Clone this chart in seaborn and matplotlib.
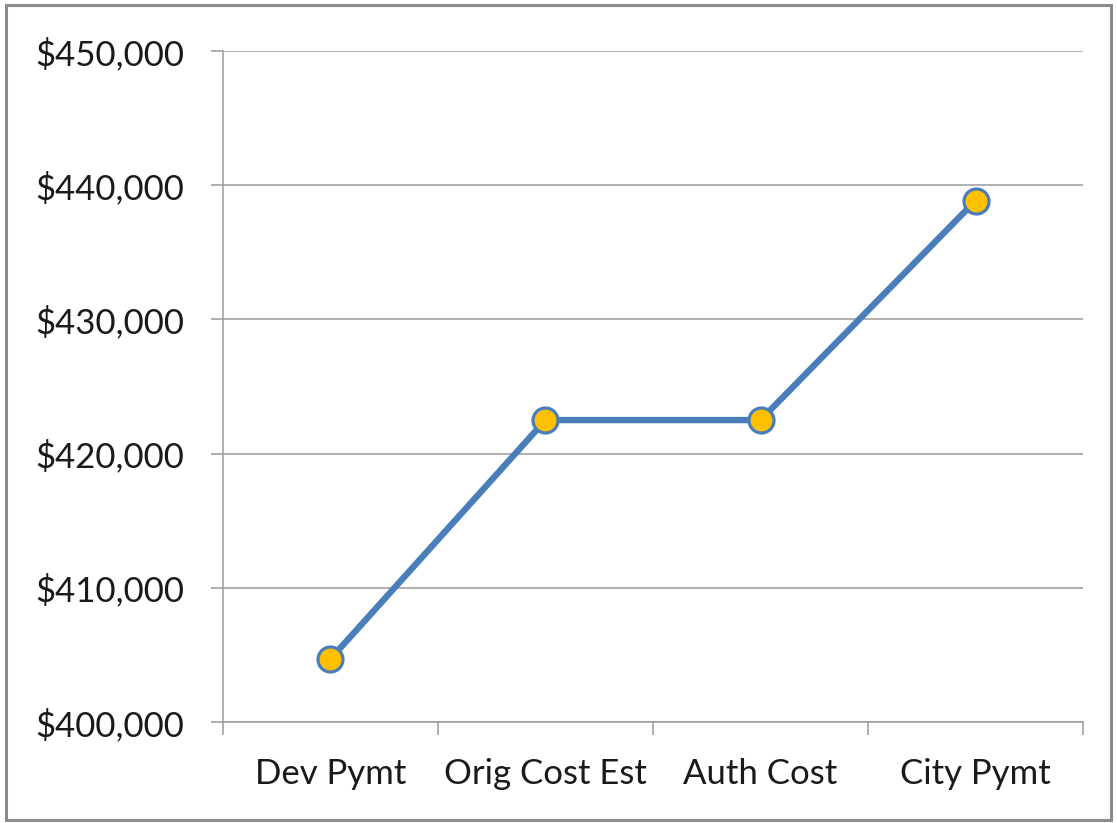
"""Cost comparison line chart, Excel style."""
import pandas as pd
import seaborn as sns
import matplotlib.pyplot as plt
import matplotlib.patches as mpatches
import matplotlib.ticker as mticker

# Data
categories = ["Dev Pymt", "Orig Cost Est", "Auth Cost", "City Pymt"]
amounts = [404700, 422500, 422500, 438850]
yticks = [400000, 410000, 420000, 430000, 440000, 450000]

df = pd.DataFrame({"category": categories, "amount": amounts})

sns.set_style("white")
plt.rcParams["font.family"] = ["Lato", "DejaVu Sans"]

LINE_COLOR = "#4A7EBB"
MARKER_COLOR = "#FFC000"
GRID_COLOR = "#9a9a9a"
TEXT_COLOR = "#1a1a1a"
FONT_SIZE = 25

fig = plt.figure(figsize=(11.17, 8.23), dpi=100)
ax = fig.add_axes([0.1996, 0.1227, 0.77, 0.8153])

sns.lineplot(data=df, x="category", y="amount", sort=False,
             color=LINE_COLOR, linewidth=4.6,
             marker="o", markersize=18, markerfacecolor=MARKER_COLOR,
             markeredgecolor=LINE_COLOR, markeredgewidth=2.3,
             ax=ax, zorder=3)

ax.set_xlim(-0.5, len(categories) - 0.5)
ax.set_ylim(yticks[0], yticks[-1])
ax.set_xlabel("")
ax.set_ylabel("")

# y axis
ax.yaxis.set_major_locator(mticker.FixedLocator(yticks))
ax.yaxis.set_major_formatter(mticker.FuncFormatter(lambda v, p: f"${v:,.0f}"))
ax.grid(axis="y", color=GRID_COLOR, linewidth=1.1)
ax.set_axisbelow(True)
ax.tick_params(axis="y", which="major", length=9, width=1.1, color=GRID_COLOR,
               pad=19, labelsize=FONT_SIZE, labelcolor=TEXT_COLOR, left=True)

# x axis: labels at centres, tick marks between categories
ax.set_xticks(range(len(categories)))
ax.set_xticklabels(categories)
ax.xaxis.set_minor_locator(mticker.FixedLocator(
    [i - 0.5 for i in range(len(categories) + 1)]))
ax.tick_params(axis="x", which="major", length=0, pad=26,
               labelsize=FONT_SIZE, labelcolor=TEXT_COLOR)
ax.tick_params(axis="x", which="minor", length=9, width=1.1,
               color=GRID_COLOR, bottom=True)

for side in ["top", "right"]:
    ax.spines[side].set_visible(False)
for side in ["left", "bottom"]:
    ax.spines[side].set_color(GRID_COLOR)
    ax.spines[side].set_linewidth(1.1)

# outer chart border
fig.patches.append(mpatches.Rectangle(
    (0.005, 0.004), 0.99, 0.99, transform=fig.transFigure,
    fill=False, edgecolor="#8c8c8c", linewidth=2.2))

plt.savefig("out.png", dpi=100)
plt.close()
